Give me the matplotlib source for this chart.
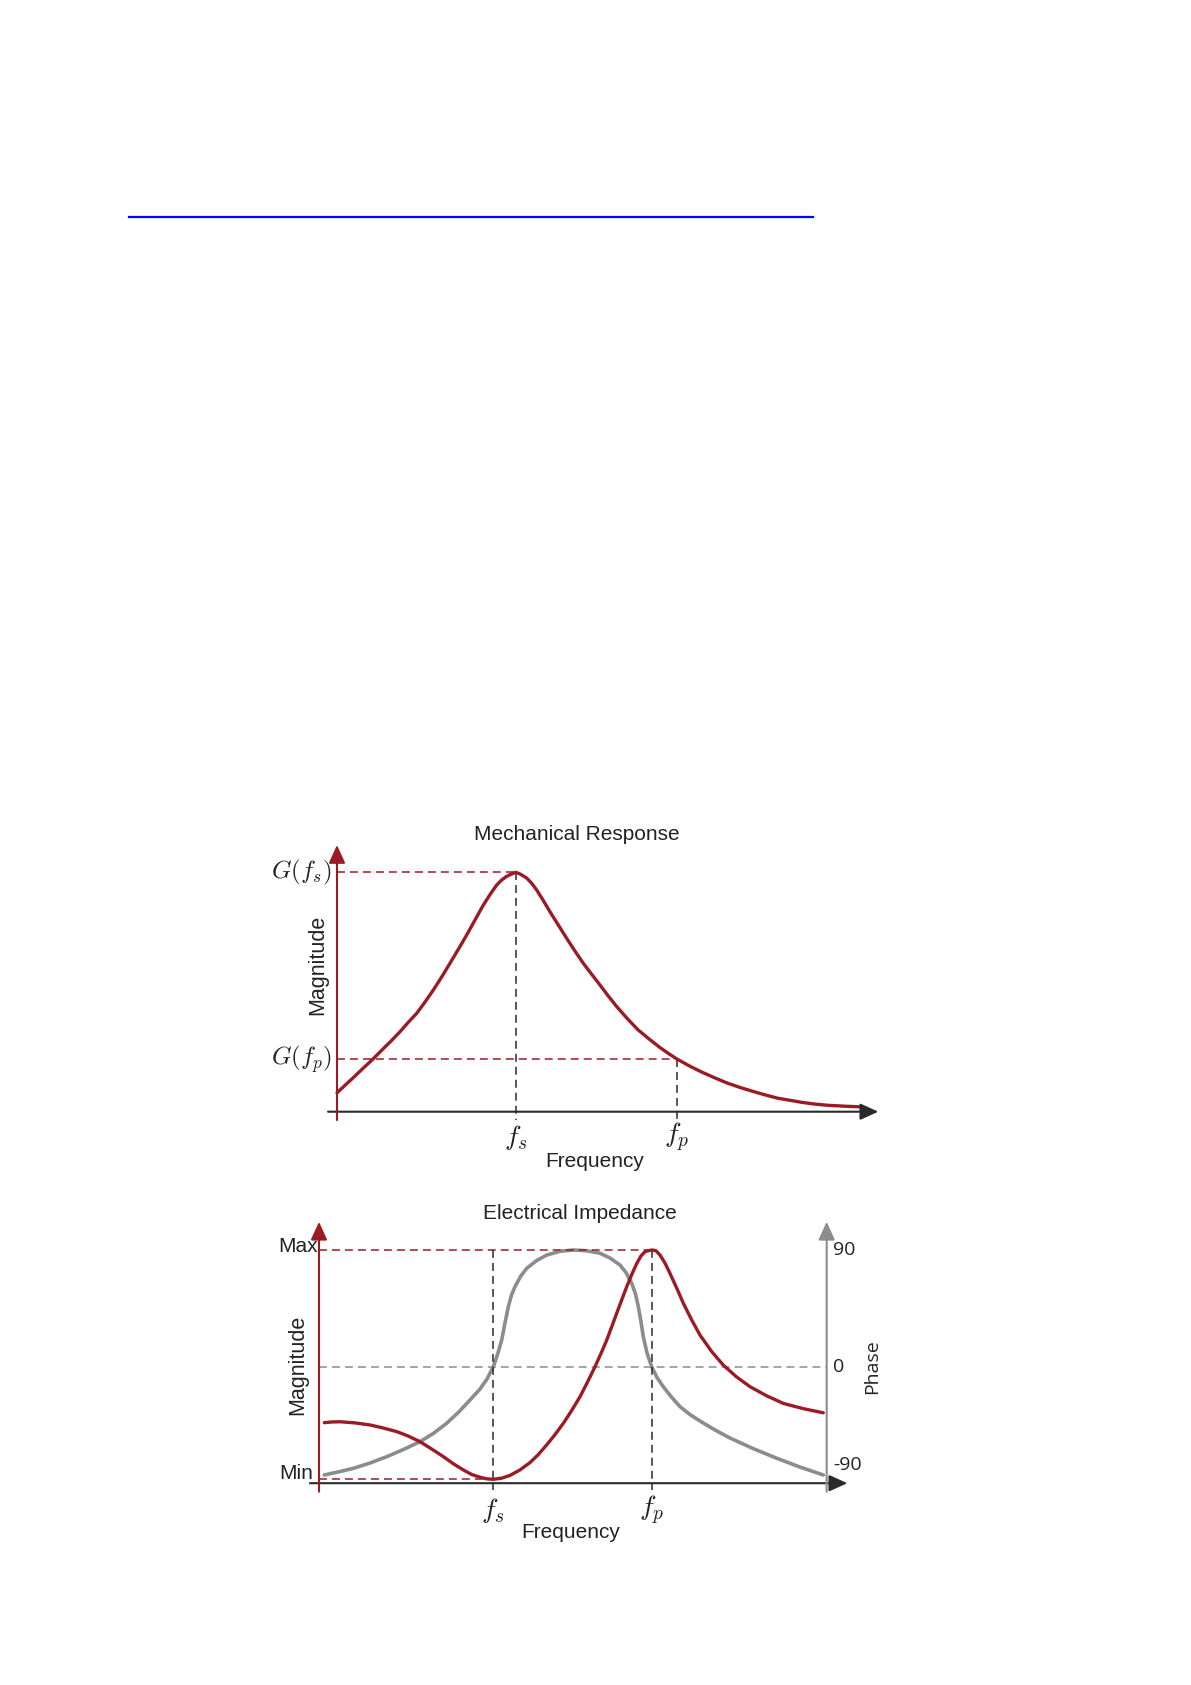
import matplotlib
matplotlib.use("Agg")
import matplotlib.pyplot as plt
from matplotlib.lines import Line2D

plt.rcParams['font.family'] = ['Liberation Sans', 'DejaVu Sans']
plt.rcParams['mathtext.fontset'] = 'cm'

# ---- data (frequency in arbitrary units 0..10) ----
# mechanical response, magnitude normalised so G(fs) = 1
mech_freq = [0.000, 0.171, 0.343, 0.514, 0.686, 0.857, 1.029, 1.200, 1.352, 1.518,
             1.676, 1.834, 1.994, 2.152, 2.310, 2.470, 2.629, 2.787, 2.914, 3.042,
             3.137, 3.232, 3.314, 3.404, 3.495, 3.613, 3.705, 3.804, 3.924, 4.057,
             4.215, 4.375, 4.533, 4.691, 4.851, 5.010, 5.168, 5.328, 5.533, 5.739,
             5.943, 6.152, 6.314, 6.476, 6.714, 6.952, 7.190, 7.429, 7.667, 7.905,
             8.143, 8.381, 8.619, 8.857, 9.095, 9.333, 9.667, 10.000]
mech_mag = [0.079, 0.114, 0.149, 0.185, 0.220, 0.258, 0.295, 0.334, 0.372, 0.411,
            0.458, 0.508, 0.563, 0.620, 0.678, 0.738, 0.801, 0.863, 0.907, 0.947,
            0.968, 0.983, 0.992, 1.000, 0.992, 0.976, 0.955, 0.926, 0.884, 0.835,
            0.780, 0.724, 0.671, 0.620, 0.574, 0.529, 0.483, 0.439, 0.388, 0.341,
            0.304, 0.268, 0.243, 0.220, 0.191, 0.165, 0.142, 0.120, 0.102, 0.086,
            0.071, 0.057, 0.048, 0.039, 0.032, 0.027, 0.023, 0.020]
mech_fs, mech_fp = 3.404, 6.476
mech_G_fs, mech_G_fp = 1.0, 0.22

# electrical impedance, magnitude normalised Min = 0 / Max = 1
imp_freq = [0.105, 0.258, 0.416, 0.714, 1.011, 1.269, 1.541, 1.765, 2.003, 2.235,
            2.465, 2.663, 2.861, 3.028, 3.193, 3.325, 3.456, 3.623, 3.787, 3.986,
            4.184, 4.349, 4.515, 4.680, 4.844, 5.011, 5.175, 5.324, 5.473, 5.592,
            5.705, 5.804, 5.903, 6.002, 6.102, 6.201, 6.300, 6.385, 6.465, 6.534,
            6.603, 6.682, 6.762, 6.861, 6.960, 7.093, 7.224, 7.390, 7.555, 7.787,
            8.017, 8.283, 8.546, 8.877, 9.207, 9.604, 10.0]
imp_mag = [0.247, 0.250, 0.251, 0.246, 0.237, 0.224, 0.208, 0.189, 0.164, 0.132,
           0.099, 0.068, 0.041, 0.021, 0.009, 0.002, 0.000, 0.005, 0.017, 0.041,
           0.073, 0.108, 0.150, 0.195, 0.244, 0.300, 0.360, 0.424, 0.491, 0.549,
           0.607, 0.665, 0.724, 0.782, 0.840, 0.893, 0.941, 0.974, 0.993, 0.997,
           1.000, 0.997, 0.978, 0.943, 0.898, 0.834, 0.768, 0.695, 0.629, 0.557,
           0.498, 0.446, 0.404, 0.364, 0.331, 0.308, 0.290]
# phase in degrees
phase_freq = [0.105, 0.377, 0.680, 1.011, 1.342, 1.672, 2.003, 2.267, 2.532, 2.762,
              2.994, 3.193, 3.331, 3.456, 3.540, 3.623, 3.688, 3.754, 3.817, 3.887,
              3.996, 4.119, 4.317, 4.515, 4.779, 5.043, 5.309, 5.572, 5.771, 5.969,
              6.088, 6.201, 6.276, 6.332, 6.385, 6.431, 6.504, 6.597, 6.702, 6.827,
              6.990, 7.158, 7.357, 7.555, 7.852, 8.150, 8.606, 9.076, 9.538, 10.0]
phase_deg = [-83.5, -81.2, -78.4, -74.3, -69.4, -63.9, -57.8, -51.5, -43.6, -35.3,
             -25.7, -17.2, -9.5, 0.0, 9.4, 20.6, 33.7, 46.3, 55.3, 61.7,
             69.6, 75.9, 81.9, 86.1, 89.0, 90.0, 89.4, 87.5, 83.8, 78.4,
             72.6, 64.3, 56.1, 46.3, 34.5, 23.1, 10.6, 0.0, -8.3, -15.4,
             -23.4, -30.8, -36.9, -41.9, -48.8, -55.0, -63.1, -70.6, -77.4, -83.5]
imp_fs, imp_fp = 3.456, 6.597
phase_ticks = [90, 0, -90]

RED = '#9b1b25'
GRAY = '#8c8c8c'
DARK = '#2a2a2a'
TXT = '#222222'

W, H = 1191, 1685
fig = plt.figure(figsize=(W / 100, H / 100), dpi=100)


def px_axes(left, right, top, bottom):
    return fig.add_axes([left / W, 1 - bottom / H, (right - left) / W, (bottom - top) / H])


def lim(v0, p0, v1, p1, lo, hi):
    # value at pixel lo and hi, given two anchor (value, pixel) pairs
    s = (v1 - v0) / (p1 - p0)
    return v0 + (lo - p0) * s, v0 + (hi - p0) * s


def arrow(ax, start, tip, color, lw=1.5):
    ax.annotate('', xy=tip, xytext=start,
                arrowprops=dict(arrowstyle='-|>,head_length=0.55,head_width=0.25',
                                mutation_scale=20, color=color, lw=lw,
                                shrinkA=0, shrinkB=0), annotation_clip=False)


dash = dict(lw=1.1, dashes=(5.2, 3.3))
curve = dict(solid_joinstyle='round', solid_capstyle='round')

# link underline at the top of the page
fig.add_artist(Line2D([129 / W, 813 / W], [1 - 217 / H, 1 - 217 / H],
                      transform=fig.transFigure, color='#0000ff', lw=1.6))

# ---------------- Mechanical Response ----------------
ax = px_axes(300, 900, 820, 1130)
ax.set_xlim(*lim(0, 337, 10, 862, 300, 900))
ax.set_ylim(*lim(0, 1111.7, 1, 872.3, 1130, 820))
ax.axis('off')

ax.plot([0, mech_fs], [mech_G_fs, mech_G_fs], color=RED, **dash)
ax.plot([0, mech_fp], [mech_G_fp, mech_G_fp], color=RED, **dash)
ax.plot([mech_fs, mech_fs], [mech_G_fs, -0.035], color=DARK, **dash)
ax.plot([mech_fp, mech_fp], [mech_G_fp, -0.035], color=DARK, **dash)
ax.plot(mech_freq, mech_mag, color=RED, lw=2.4, zorder=3, **curve)
arrow(ax, (-0.17, 0), (10.31, 0), DARK)
arrow(ax, (0, -0.035), (0, 1.114), RED)

ax.text(4.57, 1.156, 'Mechanical Response', ha='center', va='center', fontsize=15, color=TXT)
ax.text(4.905, -0.21, 'Frequency', ha='center', va='center', fontsize=15, color=TXT)
ax.text(-0.36, 0.613, 'Magnitude', ha='center', va='center', rotation=90, fontsize=15.5, color=TXT)
ax.text(-0.1, mech_G_fs, '$G(f_s)$', ha='right', va='center', fontsize=18, color=TXT)
ax.text(-0.1, mech_G_fp, '$G(f_p)$', ha='right', va='center', fontsize=18, color=TXT)
ax.text(mech_fs, -0.106, '$f_s$', ha='center', va='center', fontsize=20, color=TXT)
ax.text(mech_fp, -0.106, '$f_p$', ha='center', va='center', fontsize=20, color=TXT)

# ---------------- Electrical Impedance ----------------
bx = px_axes(290, 880, 1200, 1500)
bx.set_xlim(*lim(0, 319, 10, 823.3, 290, 880))
bx.set_ylim(*lim(0, 1479.3, 1, 1250, 1500, 1200))
bx.axis('off')
px2 = bx.twinx()
px2.set_ylim(*lim(0, 1366.7, 90, 1250, 1500, 1200))
px2.axis('off')

bx.plot([0, imp_fp], [1, 1], color=RED, **dash)
bx.plot([0, imp_fs], [0, 0], color=RED, **dash)
bx.plot([imp_fs, imp_fs], [1, -0.047], color=DARK, **dash)
bx.plot([imp_fp, imp_fp], [1, -0.047], color=DARK, **dash)
px2.plot([0, 10.067], [0, 0], color=GRAY, **dash)

px2.plot(phase_freq, phase_deg, color=GRAY, lw=2.6, zorder=3, **curve)
bx.plot(imp_freq, imp_mag, color=RED, lw=2.4, zorder=4, **curve)
px2.set_zorder(bx.get_zorder() - 1)
bx.patch.set_visible(False)

arrow(bx, (-0.18, -0.017), (10.476, -0.017), DARK)
arrow(bx, (0, -0.054), (0, 1.123), RED)
arrow(bx, (10.067, -0.054), (10.067, 1.123), GRAY)

bx.text(5.166, 1.157, 'Electrical Impedance', ha='center', va='center', fontsize=15, color=TXT)
bx.text(4.997, -0.234, 'Frequency', ha='center', va='center', fontsize=15, color=TXT)
bx.text(-0.416, 0.498, 'Magnitude', ha='center', va='center', rotation=90, fontsize=15.5, color=TXT)
bx.text(-0.03, 1.014, 'Max', ha='right', va='center', fontsize=15, color=TXT)
bx.text(-0.11, 0.027, 'Min', ha='right', va='center', fontsize=15, color=TXT)
bx.text(imp_fs, -0.134, '$f_s$', ha='center', va='center', fontsize=20, color=TXT)
bx.text(imp_fp, -0.134, '$f_p$', ha='center', va='center', fontsize=20, color=TXT)

tick_y = {90: 90, 0: 0, -90: -76}
for t in phase_ticks:
    px2.text(10.19, tick_y[t], str(t), ha='left', va='center', fontsize=14,
             color=TXT, family=['Open Sans', 'DejaVu Sans'])
px2.text(10.96, 0, 'Phase', ha='center', va='center', rotation=90, fontsize=14,
         color=TXT, family=['Open Sans', 'DejaVu Sans'])

fig.savefig('out.png', dpi=100)
